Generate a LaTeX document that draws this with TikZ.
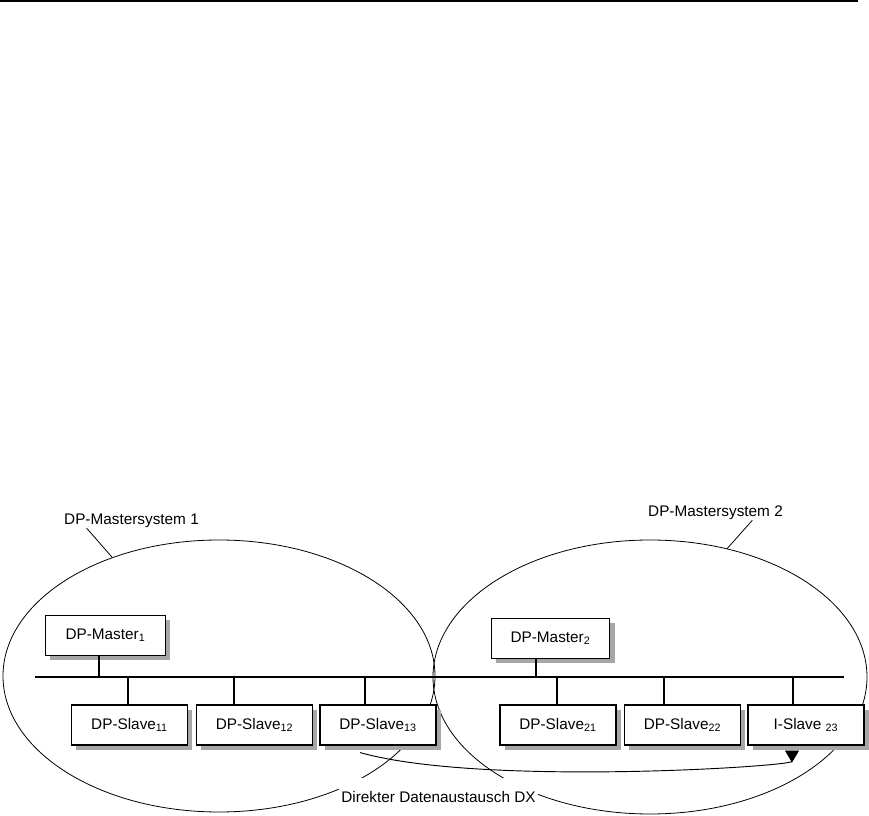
\documentclass[tikz,border=0pt]{standalone}
\usepackage{fontspec}
\setmainfont{Liberation Sans}
\usetikzlibrary{shapes.geometric,shadows,arrows.meta}

\tikzset{
    dpbox/.style={draw, line width=0.8pt, fill=white, minimum width=87pt, minimum height=30pt, inner sep=0pt,
        drop shadow={shadow xshift=3.5pt, shadow yshift=-3.5pt, fill=black!35, opacity=1}},
    dpsys/.style={draw, ellipse, line width=0.6pt, inner sep=0pt},
    lbl/.style={inner sep=0pt}
}

\begin{document}
\begin{tikzpicture}[x=0.75pt, y=-0.75pt, font=\fontsize{11.5}{13}\selectfont]
        \useasboundingbox (0,0) rectangle (869,816);
        \draw[line width=1.5pt] (0,1.5) -- (858,1.5);
        \node[dpsys, minimum width=324pt, minimum height=204pt] (sys1) at (219,676) {};
        \node[dpsys, minimum width=325.5pt, minimum height=205.5pt] (sys2) at (650,677) {};
        \node[lbl] (lab1) at (131.5,521) {DP-Mastersystem 1};
        \node[lbl] (lab2) at (715.5,513) {DP-Mastersystem 2};
        \draw[line width=0.6pt] ([xshift=17pt]lab1.south west) -- (sys1.132);
        \draw[line width=0.6pt] ([xshift=-23pt]lab2.south east) -- (sys2.59);
        \coordinate (busl) at (35,677);
        \coordinate (busr) at (844,677);
        \draw[line width=0.9pt] (busl) -- (busr);
        \coordinate (t1) at (99,677);
        \coordinate (t2) at (536,677);
        \coordinate (t11) at (128,677);
        \coordinate (t12) at (234,677);
        \coordinate (t13) at (365,677);
        \coordinate (t21) at (557,677);
        \coordinate (t22) at (664,677);
        \coordinate (t23) at (793,677);
        \node[dpbox, minimum width=90pt] (m1) at (105.5,635.5) {DP-Master\textsubscript{1}};
        \node[dpbox, minimum width=89pt] (m2) at (550.5,638.5) {DP-Master\textsubscript{2}};
        \node[dpbox] (s11) at (129.5,725) {DP-Slave\textsubscript{11}};
        \node[dpbox] (s12) at (254.5,725) {DP-Slave\textsubscript{12}};
        \node[dpbox] (s13) at (378,725) {DP-Slave\textsubscript{13}};
        \node[dpbox] (s21) at (558,725) {DP-Slave\textsubscript{21}};
        \node[dpbox] (s22) at (682.5,725) {DP-Slave\textsubscript{22}};
        \node[dpbox] (s23) at (806,725) {I-Slave \textsubscript{23}};
        \draw[line width=0.9pt] (t1) -- (t1 |- m1.south);
        \draw[line width=0.9pt] (t2) -- (t2 |- m2.south);
        \draw[line width=0.9pt] (t11) -- (t11 |- s11.north);
        \draw[line width=0.9pt] (t12) -- (t12 |- s12.north);
        \draw[line width=0.9pt] (t13) -- (t13 |- s13.north);
        \draw[line width=0.9pt] (t21) -- (t21 |- s21.north);
        \draw[line width=0.9pt] (t22) -- (t22 |- s22.north);
        \draw[line width=0.9pt] (t23) -- (t23 |- s23.north);
        \draw[line width=0.7pt, -{Triangle[reversed, length=9pt, width=10.5pt]}] ([xshift=-13.5pt, yshift=-5.25pt]s13.south)
            .. controls +(120,34) and +(0,16) .. ([xshift=-10.5pt, yshift=-3.75pt]s23.south);
        \node[fill=white, inner xsep=2pt, minimum height=28.5pt] (dx) at (438.5,797) {Direkter Datenaustausch DX};
    \end{tikzpicture}
\end{document}
